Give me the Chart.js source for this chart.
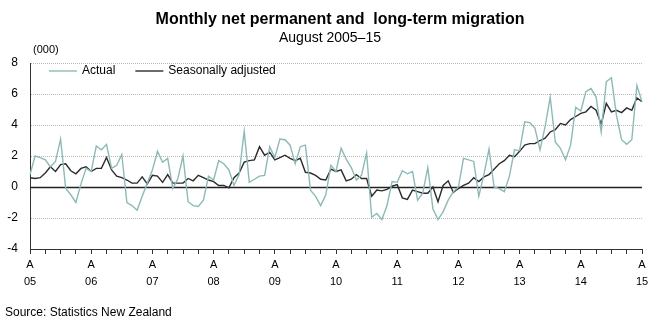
<!DOCTYPE html>
<html>
<head>
<meta charset="utf-8">
<script src="https://cdn.jsdelivr.net/npm/chart.js@4.4.1/dist/chart.umd.min.js"></script>
<style>
  body { margin: 0; background: #fff; }
  #wrap { position: relative; width: 655px; height: 324px; font-family: Arial, "Liberation Sans", sans-serif; color: #000; }
  #chart { position: absolute; left: 0; top: 0; }
  .txt { position: absolute; white-space: nowrap; }
  #title { left: 0; width: 680px; text-align: center; top: 11px; font-size: 16px; line-height: 16px; font-weight: bold; }
  #subtitle { left: 0; width: 660px; text-align: center; top: 30px; font-size: 14px; line-height: 14px; }
  #unit { left: 33px; top: 44px; font-size: 11px; line-height: 11px; }
  #source { left: 5px; top: 306px; font-size: 12px; line-height: 12px; }
</style>
</head>
<body>
<div id="wrap">
  <canvas id="chart" width="655" height="324"></canvas>
  <div class="txt" id="title">Monthly net permanent and&nbsp; long-term migration</div>
  <div class="txt" id="subtitle">August 2005–15</div>
  <div class="txt" id="unit">(000)</div>
  <div class="txt" id="source">Source: Statistics New Zealand</div>
</div>
<script>
// monthly series, August 2005 to August 2015 (thousands)
const firstYear = 2005;
const firstMonth = 8;
const monthCount = 121;

const yearLabels = ['05', '06', '07', '08', '09', '10', '11', '12', '13', '14', '15'];
const yTicks = [-4, -2, 0, 2, 4, 6, 8];

const actual = [
  0.8, 2.0, 1.9, 1.75, 1.3, 1.65, 3.1, -0.1, -0.5, -1.0, 0.2, 1.2,
  1.0, 2.65, 2.4, 2.75, 1.2, 1.4, 2.1, -1.0, -1.2, -1.5, -0.6, 0.25,
  1.1, 2.3, 1.6, 1.85, -0.1, 0.55, 2.0, -0.95, -1.2, -1.25, -0.85, 0.7,
  0.45, 1.7, 1.5, 1.1, 0.1, 0.8, 3.6, 0.3, 0.5, 0.7, 0.75, 2.6,
  1.9, 3.1, 3.05, 2.7, 1.5, 2.6, 2.7, -0.2, -0.6, -1.2, -0.5, 1.4,
  1.0, 2.5, 1.8, 1.25, 0.45, 0.75, 2.2, -1.95, -1.7, -2.1, -1.2, 0.35,
  0.3, 1.05, 0.85, 1.0, -0.85, -0.4, 1.25, -1.4, -2.1, -1.6, -0.85, -0.3,
  0.0, 1.85, 1.75, 1.65, -0.6, 0.8, 2.45, 0.0, -0.1, -0.3, 0.7, 2.4,
  2.35, 4.2, 4.15, 3.8, 2.4, 3.9, 5.8, 2.9, 2.5, 1.75, 2.7, 5.15,
  4.9, 6.15, 6.35, 5.8, 3.55, 6.8, 7.05, 4.6, 3.05, 2.75, 3.05, 6.55,
  5.5
];

const seasonallyAdjusted = [
  0.6, 0.55, 0.6, 0.9, 1.3, 1.0, 1.45, 1.5, 1.05, 0.85, 1.2, 1.3,
  1.0, 1.2, 1.2, 1.9, 1.1, 0.7, 0.6, 0.45, 0.25, 0.25, 0.65, 0.2,
  0.75, 0.7, 0.3, 0.8, 0.25, 0.25, 0.25, 0.55, 0.4, 0.75, 0.6, 0.45,
  0.35, 0.1, 0.1, -0.05, 0.6, 0.9, 1.6, 1.7, 1.75, 2.6, 2.05, 2.25,
  1.75, 1.9, 2.05, 1.85, 1.7, 1.85, 0.95, 0.9, 0.75, 0.5, 0.45, 1.15,
  1.0, 1.1, 0.4, 0.5, 0.8, 0.55, 0.55, -0.6, -0.2, -0.25, -0.15, 0.05,
  0.15, -0.7, -0.8, -0.2, -0.3, -0.4, -0.4, 0.0, -0.95, 0.1, 0.4, -0.35,
  -0.1, 0.1, 0.25, 0.6, 0.35, 0.65, 0.8, 1.15, 1.5, 1.7, 2.05, 1.95,
  2.3, 2.7, 2.8, 2.8, 3.0, 3.15, 3.55, 3.7, 4.1, 4.0, 4.35, 4.55,
  4.75, 4.85, 5.2, 4.95, 4.05, 5.4, 4.85, 4.95, 4.8, 5.1, 4.95, 5.75,
  5.5
];

// month keys like 2005-08
const months = [];
for (let i = 0; i < monthCount; i++) {
  const m = firstMonth - 1 + i;
  const y = firstYear + Math.floor(m / 12);
  months.push(y + '-' + String((m % 12) + 1).padStart(2, '0'));
}

const FONT = 'Arial, "Liberation Sans", sans-serif';
const AXIS = '#333';

// solid line through zero
const zeroLine = {
  id: 'zeroLine',
  beforeDatasetsDraw(chart) {
    const { ctx, chartArea, scales } = chart;
    const y = Math.round(scales.y.getPixelForValue(0)) + 0.5;
    ctx.save();
    ctx.strokeStyle = '#222';
    ctx.lineWidth = 1.5;
    ctx.beginPath();
    ctx.moveTo(chartArea.left, y);
    ctx.lineTo(chartArea.right, y);
    ctx.stroke();
    ctx.restore();
  }
};

// legend sitting inside the plot, top left
const insideLegend = {
  id: 'insideLegend',
  afterDraw(chart) {
    const { ctx, chartArea } = chart;
    let x = chartArea.left + 19;
    const y = chartArea.top + 8;
    ctx.save();
    ctx.font = '12px ' + FONT;
    ctx.textBaseline = 'middle';
    ctx.textAlign = 'left';
    chart.data.datasets.forEach((ds) => {
      ctx.strokeStyle = ds.borderColor;
      ctx.lineWidth = ds.borderWidth;
      ctx.beginPath();
      ctx.moveTo(x, y);
      ctx.lineTo(x + 28, y);
      ctx.stroke();
      ctx.fillStyle = '#000';
      ctx.fillText(ds.label, x + 33, y);
      x += 33 + ctx.measureText(ds.label).width + 20;
    });
    ctx.restore();
  }
};

new Chart(document.getElementById('chart'), {
  type: 'line',
  data: {
    labels: months,
    datasets: [
      {
        label: 'Actual',
        data: actual,
        borderColor: '#8dbab6',
        borderWidth: 1.4,
        pointRadius: 0,
        tension: 0
      },
      {
        label: 'Seasonally adjusted',
        data: seasonallyAdjusted,
        borderColor: '#2b2b2b',
        borderWidth: 1.4,
        pointRadius: 0,
        tension: 0
      }
    ]
  },
  options: {
    responsive: false,
    animation: false,
    layout: { padding: { top: 63, right: 13, bottom: 0, left: 0 } },
    plugins: {
      legend: { display: false },
      tooltip: { enabled: false }
    },
    scales: {
      x: {
        type: 'category',
        offset: false,
        afterFit: (s) => { s.height = 75; },
        grid: { display: true, drawOnChartArea: false, drawTicks: true, tickLength: 5, tickColor: AXIS },
        border: { display: true, color: AXIS, width: 1 },
        ticks: {
          autoSkip: false,
          maxRotation: 0,
          padding: 2,
          color: '#000',
          font: { family: FONT, size: 11, lineHeight: 1.55 },
          callback: (v, i) => {
            if (i % 3 !== 0) return null;
            return i % 12 === 0 ? ['A', yearLabels[i / 12]] : '';
          }
        }
      },
      y: {
        min: yTicks[0],
        max: yTicks[yTicks.length - 1],
        afterFit: (s) => { s.width = 30; },
        afterBuildTicks: (s) => { s.ticks = yTicks.map((v) => ({ value: v })); },
        grid: { color: '#b8b8b8', lineWidth: 1, drawTicks: false },
        border: { display: true, color: AXIS, width: 1, dash: [1, 1] },
        ticks: {
          padding: 12,
          color: '#000',
          font: { family: FONT, size: 12 }
        }
      }
    }
  },
  plugins: [zeroLine, insideLegend]
});
</script>
</body>
</html>
